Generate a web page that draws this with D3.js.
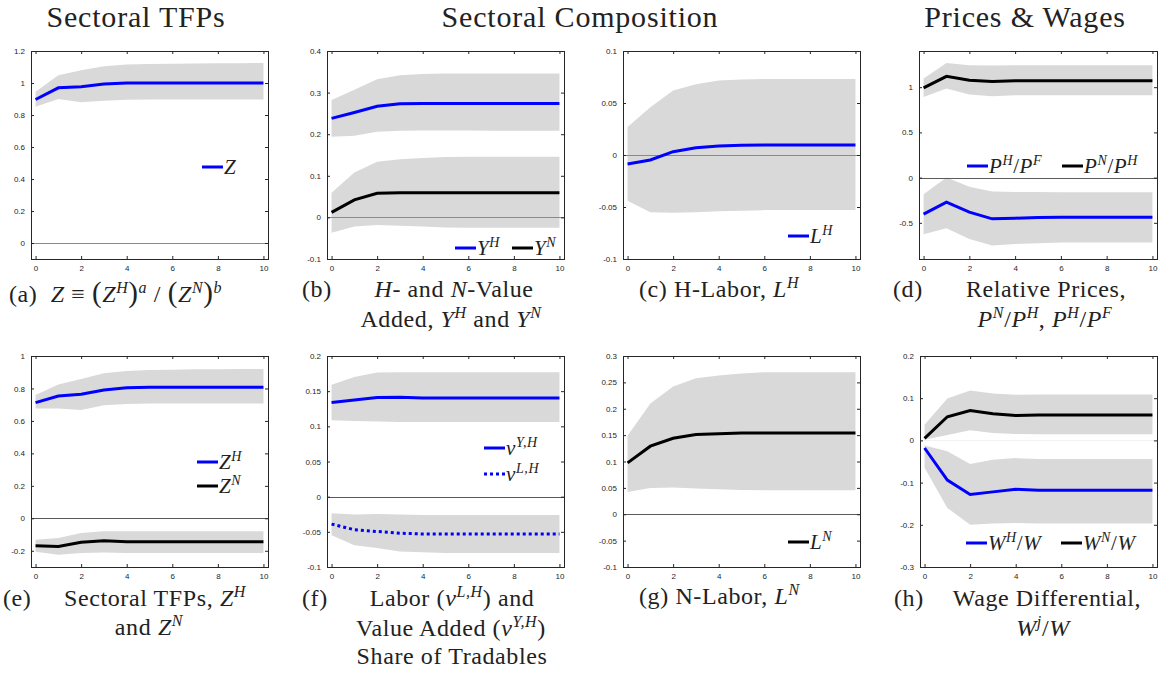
<!DOCTYPE html>
<html>
<head>
<meta charset="utf-8">
<script src="https://cdn.jsdelivr.net/npm/d3@7"></script>
<style>
  body { margin: 0; background: #fff; }
  text { white-space: pre; }
</style>
</head>
<body>
<div id="chart"></div>
<script>
// horizon (quarters after the shock)
var horizon = [0, 1, 2, 3, 4, 5, 6, 7, 8, 9, 10];
var xTicks = [0, 2, 4, 6, 8, 10];

// (a) aggregate TFP Z
var zMean = [0.897, 0.970, 0.976, 0.993, 1.000, 1.000, 1.000, 1.000, 1.000, 1.000, 1.000];
var zHi   = [0.945, 1.049, 1.080, 1.105, 1.115, 1.119, 1.121, 1.122, 1.123, 1.124, 1.125];
var zLo   = [0.852, 0.900, 0.879, 0.889, 0.895, 0.897, 0.897, 0.897, 0.897, 0.897, 0.897];

// (b) value added Y^H, Y^N
var yhMean = [0.238, 0.252, 0.267, 0.273, 0.274, 0.274, 0.274, 0.274, 0.274, 0.274, 0.274];
var yhHi   = [0.282, 0.307, 0.332, 0.342, 0.345, 0.346, 0.346, 0.346, 0.346, 0.346, 0.346];
var yhLo   = [0.194, 0.196, 0.206, 0.208, 0.209, 0.209, 0.209, 0.208, 0.208, 0.208, 0.208];
var ynMean = [0.012, 0.042, 0.058, 0.059, 0.059, 0.059, 0.059, 0.059, 0.059, 0.059, 0.059];
var ynHi   = [0.059, 0.108, 0.134, 0.140, 0.143, 0.145, 0.146, 0.146, 0.146, 0.146, 0.146];
var ynLo   = [-0.037, -0.022, -0.018, -0.020, -0.022, -0.024, -0.025, -0.025, -0.025, -0.025, -0.025];

// (c) H-labor L^H
var lhMean = [-0.0086, -0.0048, 0.0032, 0.0070, 0.0086, 0.0094, 0.0096, 0.0096, 0.0096, 0.0096, 0.0096];
var lhHi   = [0.027, 0.046, 0.062, 0.068, 0.0716, 0.0725, 0.073, 0.073, 0.073, 0.073, 0.073];
var lhLo   = [-0.044, -0.055, -0.0556, -0.055, -0.054, -0.0535, -0.053, -0.053, -0.053, -0.053, -0.053];

// (d) relative prices
var pnMean = [0.993, 1.120, 1.077, 1.062, 1.070, 1.070, 1.070, 1.070, 1.070, 1.070, 1.070];
var pnHi   = [1.096, 1.268, 1.243, 1.239, 1.243, 1.243, 1.243, 1.243, 1.243, 1.243, 1.243];
var pnLo   = [0.890, 0.985, 0.919, 0.900, 0.910, 0.910, 0.910, 0.910, 0.910, 0.910, 0.910];
var phMean = [-0.404, -0.272, -0.382, -0.456, -0.449, -0.440, -0.437, -0.437, -0.437, -0.437, -0.437];
var phHi   = [-0.184, 0.000, -0.100, -0.154, -0.158, -0.160, -0.162, -0.162, -0.162, -0.162, -0.162];
var phLo   = [-0.625, -0.559, -0.680, -0.750, -0.735, -0.725, -0.717, -0.717, -0.717, -0.717, -0.717];

// (e) sectoral TFPs Z^H, Z^N
var zhMean = [0.713, 0.753, 0.765, 0.790, 0.804, 0.808, 0.808, 0.808, 0.808, 0.808, 0.808];
var zhHi   = [0.759, 0.825, 0.858, 0.893, 0.907, 0.913, 0.916, 0.918, 0.919, 0.920, 0.920];
var zhLo   = [0.676, 0.676, 0.668, 0.697, 0.705, 0.707, 0.707, 0.707, 0.707, 0.707, 0.707];
var znMean = [-0.169, -0.173, -0.148, -0.138, -0.144, -0.144, -0.144, -0.144, -0.144, -0.144, -0.144];
var znHi   = [-0.132, -0.122, -0.091, -0.080, -0.080, -0.080, -0.080, -0.080, -0.080, -0.080, -0.080];
var znLo   = [-0.206, -0.225, -0.214, -0.210, -0.214, -0.214, -0.214, -0.214, -0.214, -0.214, -0.214];

// (f) shares of tradables
var nuYMean = [0.134, 0.1375, 0.1409, 0.1413, 0.1404, 0.1404, 0.1404, 0.1404, 0.1404, 0.1404, 0.1404];
var nuYHi   = [0.159, 0.170, 0.1764, 0.177, 0.177, 0.177, 0.177, 0.177, 0.177, 0.177, 0.177];
var nuYLo   = [0.1087, 0.1077, 0.1067, 0.1062, 0.1062, 0.1062, 0.1062, 0.1062, 0.1062, 0.1062, 0.1062];
var nuLMean = [-0.039, -0.047, -0.0495, -0.052, -0.053, -0.053, -0.053, -0.053, -0.053, -0.053, -0.053];
var nuLHi   = [-0.0236, -0.0255, -0.0245, -0.0255, -0.026, -0.026, -0.026, -0.026, -0.026, -0.026, -0.026];
var nuLLo   = [-0.055, -0.069, -0.073, -0.078, -0.079, -0.080, -0.080, -0.080, -0.080, -0.080, -0.080];

// (g) N-labor L^N
var lnMean = [0.0974, 0.129, 0.144, 0.151, 0.1526, 0.154, 0.154, 0.154, 0.154, 0.154, 0.154];
var lnHi   = [0.149, 0.210, 0.242, 0.258, 0.263, 0.267, 0.269, 0.269, 0.269, 0.269, 0.269];
var lnLo   = [0.042, 0.050, 0.0506, 0.0487, 0.0474, 0.0462, 0.0455, 0.0455, 0.0455, 0.0455, 0.0455];

// (h) wage differentials
var wnMean = [0.005, 0.056, 0.071, 0.063, 0.059, 0.060, 0.060, 0.060, 0.060, 0.060, 0.060];
var wnHi   = [0.037, 0.099, 0.118, 0.111, 0.108, 0.109, 0.109, 0.109, 0.109, 0.109, 0.109];
var wnLo   = [0.0016, 0.0128, 0.024, 0.0176, 0.015, 0.0144, 0.0144, 0.0144, 0.0144, 0.0144, 0.0144];
var whMean = [-0.018, -0.094, -0.128, -0.122, -0.116, -0.118, -0.118, -0.118, -0.118, -0.118, -0.118];
var whHi   = [-0.012, -0.026, -0.056, -0.046, -0.042, -0.044, -0.044, -0.044, -0.044, -0.044, -0.044];
var whLo   = [-0.065, -0.160, -0.200, -0.197, -0.196, -0.197, -0.197, -0.197, -0.197, -0.197, -0.197];

// y tick labels per panel
var ticksA = [0, 0.2, 0.4, 0.6, 0.8, 1, 1.2];
var ticksB = [-0.1, 0, 0.1, 0.2, 0.3, 0.4];
var ticksC = [-0.1, -0.05, 0, 0.05, 0.1];
var ticksD = [-0.5, 0, 0.5, 1];
var ticksE = [-0.2, 0, 0.2, 0.4, 0.6, 0.8, 1];
var ticksF = [-0.1, -0.05, 0, 0.05, 0.1, 0.15, 0.2];
var ticksG = [-0.1, -0.05, 0, 0.05, 0.1, 0.15, 0.2, 0.25, 0.3];
var ticksH = [-0.3, -0.2, -0.1, 0, 0.1, 0.2];

var width = 1163, height = 673;
var BLUE = '#0000ff', BLACK = '#000000', BAND = '#d9d9d9';
var SERIF = '"Liberation Serif", "DejaVu Serif", serif';
var SANS = '"Liberation Sans", Arial, sans-serif';

var svg = d3.select('#chart').append('svg')
  .attr('width', width)
  .attr('height', height);

// text with italic / superscript pieces: [text, style] where style has 'i' and/or '^'
function rich(g, x, y, segs, size, anchor) {
  var t = g.append('text')
    .attr('x', x).attr('y', y)
    .attr('font-family', SERIF)
    .attr('font-size', size)
    .attr('fill', '#222')
    .attr('letter-spacing', 0.6)
    .attr('text-anchor', anchor || 'start');
  var prev = 0;
  segs.forEach(function(s) {
    var st = s[1] || '';
    var sup = st.indexOf('^') >= 0;
    var shift = sup ? Math.round(size * 0.36) : 0;
    var ts = t.append('tspan').text(s[0]).attr('dy', prev - shift);
    if (sup) ts.attr('font-size', Math.round(size * 0.66));
    if (st.indexOf('i') >= 0) ts.attr('font-style', 'italic');
    if (st.indexOf('B') >= 0) ts.attr('font-size', Math.round(size * 1.2));
    prev = shift;
  });
  return t;
}

var fmt = function(d) { return String(+d.toFixed(3)); };

function drawPanel(p) {
  var g = svg.append('g');
  var x = d3.scaleLinear().domain([-0.2, 10.2]).range([p.left, p.left + p.w]);
  var y = d3.scaleLinear().domain(p.yDomain).range([p.top + p.h, p.top]);

  // confidence bands
  p.series.forEach(function(s) {
    g.append('path')
      .datum(horizon)
      .attr('d', d3.area()
        .x(function(d) { return x(d); })
        .y0(function(d, i) { return y(s.lo[i]); })
        .y1(function(d, i) { return y(s.hi[i]); }))
      .attr('fill', BAND);
  });

  // zero line
  g.append('line')
    .attr('x1', p.left).attr('x2', p.left + p.w)
    .attr('y1', Math.round(y(0)) + 0.5).attr('y2', Math.round(y(0)) + 0.5)
    .attr('stroke', p.zero).attr('stroke-width', 1);

  // impulse responses
  p.series.forEach(function(s) {
    g.append('path')
      .datum(horizon)
      .attr('d', d3.line()
        .x(function(d) { return x(d); })
        .y(function(d, i) { return y(s.mean[i]); }))
      .attr('fill', 'none')
      .attr('stroke', s.color)
      .attr('stroke-width', 3)
      .attr('stroke-dasharray', s.dash || null);
  });

  // axes on all four sides, ticks pointing inward
  var axes = [
    [d3.axisBottom(x).tickValues(xTicks).tickSize(-3).tickPadding(6).tickFormat(fmt), p.top + p.h, 0],
    [d3.axisTop(x).tickValues(xTicks).tickSize(-3).tickFormat(''), p.top, 0],
    [d3.axisLeft(y).tickValues(p.ticks).tickSize(-3).tickPadding(6).tickFormat(fmt), 0, p.left],
    [d3.axisRight(y).tickValues(p.ticks).tickSize(-3).tickFormat(''), 0, p.left + p.w]
  ];
  axes.forEach(function(a) {
    var ax = g.append('g')
      .attr('transform', 'translate(' + a[2] + ',' + a[1] + ')')
      .call(a[0]);
    ax.select('.domain').remove();
    ax.selectAll('line').attr('stroke', '#262626');
    ax.selectAll('text')
      .attr('font-family', SANS)
      .attr('font-size', 8)
      .attr('fill', '#262626');
  });

  // box
  g.append('rect')
    .attr('x', p.left + 0.5).attr('y', p.top + 0.5)
    .attr('width', p.w).attr('height', p.h)
    .attr('fill', 'none')
    .attr('stroke', '#262626')
    .attr('stroke-width', 1);

  // legend
  p.legend.forEach(function(l) {
    g.append('line')
      .attr('x1', l.x).attr('x2', l.x + 21)
      .attr('y1', l.y).attr('y2', l.y)
      .attr('stroke', l.color)
      .attr('stroke-width', 3)
      .attr('stroke-dasharray', l.dash || null);
    rich(g, l.x + 22, l.y + 7, l.label, 21);
  });

  // caption
  p.caption.forEach(function(c) {
    rich(g, c.x, c.y, c.segs, 24, c.anchor);
  });
}

var panels = [
  { left: 31, top: 51, w: 237, h: 208, yDomain: [-0.1, 1.2], ticks: ticksA, zero: '#8a8a8a',
    series: [{ mean: zMean, hi: zHi, lo: zLo, color: BLUE }],
    legend: [{ x: 202, y: 167, color: BLUE, label: [['Z', 'i']] }],
    caption: [{ x: 9, y: 302, segs: [['(a)  '], ['Z', 'i'], [' ≡ '], ['(', 'B'], ['Z', 'i'], ['H', '^i'], [')', 'B'], ['a', '^i'], [' / '], ['(', 'B'], ['Z', 'i'], ['N', '^i'], [')', 'B'], ['b', '^i']] }] },
  { left: 327, top: 51, w: 237, h: 208, yDomain: [-0.1, 0.4], ticks: ticksB, zero: '#8a8a8a',
    series: [{ mean: yhMean, hi: yhHi, lo: yhLo, color: BLUE }, { mean: ynMean, hi: ynHi, lo: ynLo, color: BLACK }],
    legend: [{ x: 455, y: 248, color: BLUE, label: [['Y', 'i'], ['H', '^i']] },
             { x: 512, y: 248, color: BLACK, label: [['Y', 'i'], ['N', '^i']] }],
    caption: [{ x: 302, y: 297, segs: [['(b)']] },
              { x: 454, y: 297, anchor: 'middle', segs: [['H', 'i'], ['- and '], ['N', 'i'], ['-Value']] },
              { x: 451, y: 327, anchor: 'middle', segs: [['Added, '], ['Y', 'i'], ['H', '^i'], [' and '], ['Y', 'i'], ['N', '^i']] }] },
  { left: 623, top: 51, w: 237, h: 208, yDomain: [-0.1, 0.1], ticks: ticksC, zero: '#8a8a8a',
    series: [{ mean: lhMean, hi: lhHi, lo: lhLo, color: BLUE }],
    legend: [{ x: 788, y: 236, color: BLUE, label: [['L', 'i'], ['H', '^i']] }],
    caption: [{ x: 639, y: 297, segs: [['(c) H-Labor, '], ['L', 'i'], ['H', '^i']] }] },
  { left: 919, top: 51, w: 238, h: 208, yDomain: [-0.9, 1.4], ticks: ticksD, zero: '#5a5a5a',
    series: [{ mean: pnMean, hi: pnHi, lo: pnLo, color: BLACK }, { mean: phMean, hi: phHi, lo: phLo, color: BLUE }],
    legend: [{ x: 967, y: 166, color: BLUE, label: [['P', 'i'], ['H', '^i'], ['/'], ['P', 'i'], ['F', '^i']] },
             { x: 1062, y: 166, color: BLACK, label: [['P', 'i'], ['N', '^i'], ['/'], ['P', 'i'], ['H', '^i']] }],
    caption: [{ x: 893, y: 297, segs: [['(d)']] },
              { x: 1046, y: 297, anchor: 'middle', segs: [['Relative Prices,']] },
              { x: 1045, y: 327, anchor: 'middle', segs: [['P', 'i'], ['N', '^i'], ['/'], ['P', 'i'], ['H', '^i'], [', '], ['P', 'i'], ['H', '^i'], ['/'], ['P', 'i'], ['F', '^i']] }] },
  { left: 31, top: 356, w: 237, h: 211, yDomain: [-0.3, 1], ticks: ticksE, zero: '#5a5a5a',
    series: [{ mean: zhMean, hi: zhHi, lo: zhLo, color: BLUE }, { mean: znMean, hi: znHi, lo: znLo, color: BLACK }],
    legend: [{ x: 197, y: 462, color: BLUE, label: [['Z', 'i'], ['H', '^i']] },
             { x: 197, y: 486, color: BLACK, label: [['Z', 'i'], ['N', '^i']] }],
    caption: [{ x: 3, y: 606, segs: [['(e)']] },
              { x: 155, y: 606, anchor: 'middle', segs: [['Sectoral TFPs, '], ['Z', 'i'], ['H', '^i']] },
              { x: 149, y: 635, anchor: 'middle', segs: [['and '], ['Z', 'i'], ['N', '^i']] }] },
  { left: 327, top: 356, w: 237, h: 211, yDomain: [-0.1, 0.2], ticks: ticksF, zero: '#5a5a5a',
    series: [{ mean: nuYMean, hi: nuYHi, lo: nuYLo, color: BLUE }, { mean: nuLMean, hi: nuLHi, lo: nuLLo, color: BLUE, dash: '3,3' }],
    legend: [{ x: 484, y: 448, color: BLUE, label: [['ν', 'i'], ['Y,H', '^i']] },
             { x: 484, y: 474, color: BLUE, dash: '3,3', label: [['ν', 'i'], ['L,H', '^i']] }],
    caption: [{ x: 302, y: 606, segs: [['(f)']] },
              { x: 452, y: 606, anchor: 'middle', segs: [['Labor ('], ['ν', 'i'], ['L,H', '^i'], [') and']] },
              { x: 451, y: 636, anchor: 'middle', segs: [['Value Added ('], ['ν', 'i'], ['Y,H', '^i'], [')']] },
              { x: 452, y: 664, anchor: 'middle', segs: [['Share of Tradables']] }] },
  { left: 623, top: 356, w: 237, h: 211, yDomain: [-0.1, 0.3], ticks: ticksG, zero: '#5a5a5a',
    series: [{ mean: lnMean, hi: lnHi, lo: lnLo, color: BLACK }],
    legend: [{ x: 788, y: 542, color: BLACK, label: [['L', 'i'], ['N', '^i']] }],
    caption: [{ x: 639, y: 604, segs: [['(g) N-Labor, '], ['L', 'i'], ['N', '^i']] }] },
  { left: 920, top: 356, w: 237, h: 211, yDomain: [-0.3, 0.2], ticks: ticksH, zero: '#f2f2f2',
    series: [{ mean: wnMean, hi: wnHi, lo: wnLo, color: BLACK }, { mean: whMean, hi: whHi, lo: whLo, color: BLUE }],
    legend: [{ x: 966, y: 543, color: BLUE, label: [['W', 'i'], ['H', '^i'], ['/'], ['W', 'i']] },
             { x: 1061, y: 543, color: BLACK, label: [['W', 'i'], ['N', '^i'], ['/'], ['W', 'i']] }],
    caption: [{ x: 894, y: 606, segs: [['(h)']] },
              { x: 1047, y: 606, anchor: 'middle', segs: [['Wage Differential,']] },
              { x: 1043, y: 636, anchor: 'middle', segs: [['W', 'i'], ['j', '^i'], ['/'], ['W', 'i']] }] }
];

panels.forEach(drawPanel);

// column headings
var headings = [['Sectoral TFPs', 136], ['Sectoral Composition', 580], ['Prices & Wages', 1025]];
headings.forEach(function(h) {
  svg.append('text')
    .attr('x', h[1]).attr('y', 27)
    .attr('text-anchor', 'middle')
    .attr('font-family', SERIF)
    .attr('font-size', 30)
    .attr('letter-spacing', 0.8)
    .attr('fill', '#222')
    .text(h[0]);
});
</script>
</body>
</html>
